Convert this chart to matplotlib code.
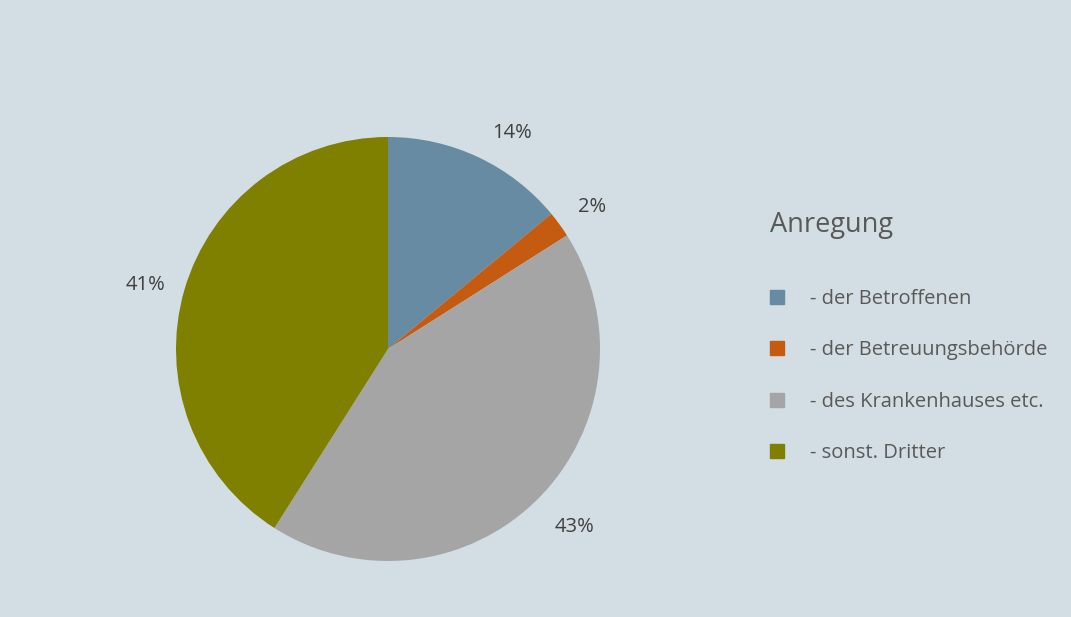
import matplotlib.pyplot as plt
from matplotlib.lines import Line2D

plt.rcParams['font.family'] = ['Open Sans', 'DejaVu Sans']

# data
labels = ['- der Betroffenen', '- der Betreuungsbehörde',
          '- des Krankenhauses etc.', '- sonst. Dritter']
values = [14, 2, 43, 41]
colors = ['#678ba2', '#c55a11', '#a5a5a5', '#7f7f00']
bg = '#d3dee4'

fig = plt.figure(figsize=(10.71, 6.17), dpi=100, facecolor=bg)

# pie axes: center ~ (388, 349) px, radius ~ 212 px
W, H = 1071, 617
cx, cy, r = 388, 349, 212
ax = fig.add_axes([(cx - r) / W, (H - cy - r) / H, 2 * r / W, 2 * r / H])
ax.set_facecolor(bg)

wedges, texts, autotexts = ax.pie(
    values, colors=colors, startangle=90, counterclock=False,
    autopct='%1.0f%%', pctdistance=1.19,
    textprops={'fontsize': 14.5, 'color': '#404040'},
    wedgeprops={'linewidth': 0})
ax.set_xlim(-1, 1)
ax.set_ylim(-1, 1)
ax.set_aspect('equal')

# small nudges of the percentage labels, like the original layout
nudges = [(0.08, -0.06), (0.0, -0.03), (0.04, 0.0), (0.0, -0.03)]
for t, (dx, dy) in zip(autotexts, nudges):
    x, y = t.get_position()
    t.set_position((x + dx, y + dy))

handles = [Line2D([], [], marker='s', linestyle='none', markersize=10,
                  markerfacecolor=c, markeredgecolor=c) for c in colors]
leg = fig.legend(handles, labels, title='Anregung',
                 loc='upper left', bbox_to_anchor=(752 / W, 1 - 193 / H),
                 frameon=False, fontsize=14.5, title_fontsize=19.5,
                 labelspacing=1.55, handletextpad=1.3, handlelength=0.7,
                 alignment='left', labelcolor='#595959')
leg.get_title().set_color('#595959')
leg._legend_box.sep = 36

fig.savefig('out.png', dpi=100, facecolor=bg)
